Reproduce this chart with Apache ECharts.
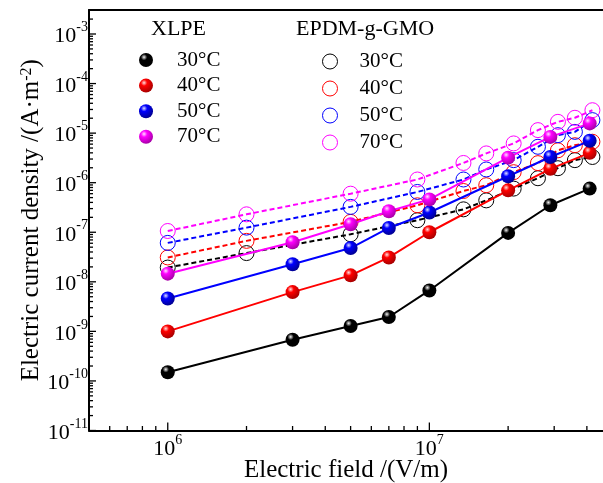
<!DOCTYPE html>
<html>
<head>
<meta charset="utf-8">
<script src="https://cdn.jsdelivr.net/npm/echarts@6/dist/echarts.min.js"></script>
<style>
html,body{margin:0;padding:0;background:#fff;}
#c{width:603px;height:483px;}
</style>
</head>
<body>
<div id="c"></div>
<script>
// ---- data ----
const xlpeField = [1e6, 3e6, 5e6, 7e6, 1e7, 2e7, 2.9e7, 4.1e7];
const xlpe30 = [1.5e-10, 6.8e-10, 1.28e-9, 1.95e-9, 6.7e-9, 9.7e-8, 3.5e-7, 7.6e-7];
const xlpe40 = [1.0e-9, 6.2e-9, 1.35e-8, 3.1e-8, 1.0e-7, 7.0e-7, 1.9e-6, 4.0e-6];
const xlpe50 = [4.6e-9, 2.26e-8, 4.8e-8, 1.22e-7, 2.5e-7, 1.35e-6, 3.3e-6, 7.0e-6];
const xlpe70 = [1.46e-8, 6.3e-8, 1.45e-7, 2.65e-7, 4.6e-7, 3.2e-6, 8.4e-6, 1.57e-5];

const epdmField = [1e6, 2e6, 5e6, 9e6, 1.35e7, 1.65e7, 2.1e7, 2.6e7, 3.1e7, 3.6e7, 4.2e7];
const epdm30 = [1.94e-8, 3.8e-8, 9.1e-8, 1.75e-7, 2.9e-7, 4.4e-7, 7.6e-7, 1.23e-6, 1.96e-6, 2.85e-6, 3.3e-6];
const epdm40 = [3.1e-8, 6.7e-8, 1.62e-7, 3.5e-7, 6.8e-7, 8.9e-7, 1.63e-6, 2.48e-6, 4.5e-6, 5.7e-6, 6.7e-6];
const epdm50 = [6.1e-8, 1.24e-7, 3.25e-7, 6.5e-7, 1.16e-6, 1.85e-6, 2.85e-6, 5.3e-6, 9.1e-6, 1.06e-5, 1.83e-5];
const epdm70 = [1.06e-7, 2.3e-7, 6.0e-7, 1.16e-6, 2.5e-6, 3.9e-6, 6.2e-6, 1.15e-5, 1.69e-5, 2.04e-5, 2.9e-5];

const temps = ['30°C', '40°C', '50°C', '70°C'];
const groupNames = ['XLPE', 'EPDM-g-GMO'];

// axis extents and tick values
const X_MIN = 5e5, X_MAX = 4.61e7;
const Y_MIN = 1e-11, Y_MAX = 3.05e-3;
const xMajorTicks = [1e6, 1e7];
const xMinorTicks = [6e5, 7e5, 8e5, 9e5, 2e6, 3e6, 4e6, 5e6, 6e6, 7e6, 8e6, 9e6, 2e7, 3e7, 4e7];
const yMajorTicks = [1e-11, 1e-10, 1e-9, 1e-8, 1e-7, 1e-6, 1e-5, 1e-4, 1e-3];
const yMinorTicks = [];
for (let e = -11; e <= -3; e++) {
  for (let k = 2; k <= 9; k++) {
    const v = k * Math.pow(10, e);
    if (v <= Y_MAX) yMinorTicks.push(v);
  }
}

// ---- styling ----
const FONT = '"Liberation Serif", "Times New Roman", serif';
const colors = ['#000000', '#ff0000', '#0000ff', '#ff00ff'];
const darkColors = ['#000000', '#a00000', '#00008a', '#a000a0'];
const lightColors = ['#f4f4f4', '#ffe0e0', '#e0e0ff', '#ffe0ff'];

function sphere(i) {
  return {
    type: 'radial', x: 0.36, y: 0.3, r: 0.75,
    colorStops: [
      { offset: 0, color: lightColors[i] },
      { offset: 0.3, color: colors[i] },
      { offset: 1, color: darkColors[i] }
    ]
  };
}

function pair(xs, ys) { return xs.map((x, i) => [x, ys[i]]); }

const xlpeSets = [xlpe30, xlpe40, xlpe50, xlpe70];
const epdmSets = [epdm30, epdm40, epdm50, epdm70];

const series = [];

// EPDM (open circles, dashed)
epdmSets.forEach((ys, i) => {
  series.push({
    name: 'EPDM ' + temps[i],
    type: 'line',
    data: pair(epdmField, ys),
    symbol: 'circle',
    symbolSize: 15,
    showSymbol: true,
    lineStyle: { color: colors[i], width: 2, type: [5, 3] },
    itemStyle: { color: 'rgba(0,0,0,0)', borderColor: colors[i], borderWidth: 1 },
    emphasis: { disabled: true },
    z: 2
  });
});

// XLPE (spheres, solid)
xlpeSets.forEach((ys, i) => {
  series.push({
    name: 'XLPE ' + temps[i],
    type: 'line',
    data: pair(xlpeField, ys),
    symbol: 'circle',
    symbolSize: 14,
    lineStyle: { color: colors[i], width: 2 },
    itemStyle: { color: sphere(i), borderWidth: 0 },
    emphasis: { disabled: true },
    z: 3
  });
});

// tick marks drawn through the axes' scales
function xTickSeries(vals, len) {
  return {
    type: 'custom', silent: true, clip: false, z: 10,
    data: vals.map(v => [v, Y_MIN, len]),
    encode: { x: 0, y: 1 },
    renderItem: (params, api) => {
      const p = api.coord([api.value(0), api.value(1)]);
      return { type: 'line', shape: { x1: p[0], y1: p[1], x2: p[0], y2: p[1] - api.value(2) },
        style: { stroke: '#000', lineWidth: 1.3 } };
    }
  };
}
function yTickSeries(vals, len) {
  return {
    type: 'custom', silent: true, clip: false, z: 10,
    data: vals.map(v => [X_MIN, v, len]),
    encode: { x: 0, y: 1 },
    renderItem: (params, api) => {
      const p = api.coord([api.value(0), api.value(1)]);
      return { type: 'line', shape: { x1: p[0], y1: p[1], x2: p[0] + api.value(2), y2: p[1] },
        style: { stroke: '#000', lineWidth: 1.3 } };
    }
  };
}
series.push(xTickSeries(xMajorTicks, 8), xTickSeries(xMinorTicks, 4.5),
            yTickSeries(yMajorTicks, 7), yTickSeries(yMinorTicks, 4));

function powLabel(v) {
  const e = Math.log10(v);
  const r = Math.round(e);
  if (Math.abs(e - r) > 1e-6) return '';
  return '{b|10}{s|' + r + '}';
}
const richPow = {
  b: { fontFamily: FONT, fontSize: 22, lineHeight: 27, color: '#000', verticalAlign: 'bottom' },
  s: { fontFamily: FONT, fontSize: 14, lineHeight: 14, color: '#000', verticalAlign: 'top' }
};

const legendText = { fontFamily: FONT, fontSize: 21, lineHeight: 21, color: '#000' };

const option = {
  animation: false,
  backgroundColor: '#fff',
  grid: { left: 89, right: 0, top: 10, bottom: 52.5, outerBoundsMode: 'none', containLabel: false },
  title: [
    { text: groupNames[0], left: 151, top: 18, padding: 0,
      textStyle: { fontFamily: FONT, fontSize: 22, fontWeight: 'normal', color: '#000' } },
    { text: groupNames[1], left: 296, top: 18, padding: 0,
      textStyle: { fontFamily: FONT, fontSize: 22, fontWeight: 'normal', color: '#000' } }
  ],
  legend: [
    {
      orient: 'vertical', left: 139, top: 49.5, padding: 0, itemGap: 4.6,
      itemWidth: 14, itemHeight: 14, icon: 'circle', selectedMode: false,
      data: temps.map((t, i) => ({ name: 'XLPE ' + t, itemStyle: { color: sphere(i), borderWidth: 0 } })),
      formatter: n => n.split(' ')[1],
      textStyle: Object.assign({ padding: [0, 0, 0, 19] }, legendText)
    },
    {
      orient: 'vertical', left: 322, top: 51, padding: 0, itemGap: 6,
      itemWidth: 15, itemHeight: 15, icon: 'circle', selectedMode: false,
      data: temps.map((t, i) => ({ name: 'EPDM ' + t,
        itemStyle: { color: 'rgba(0,0,0,0)', borderColor: colors[i], borderWidth: 1 } })),
      formatter: n => n.split(' ')[1],
      textStyle: Object.assign({ padding: [0, 0, 0, 17] }, legendText)
    }
  ],
  xAxis: [
    {
      type: 'log', logBase: 10, min: X_MIN, max: X_MAX,
      name: 'Electric field /(V/m)', nameLocation: 'middle', nameGap: 27, nameMoveOverlap: false,
      nameTextStyle: { fontFamily: FONT, fontSize: 25, color: '#000' },
      axisLine: { show: true, lineStyle: { color: '#000', width: 2 } },
      axisTick: { show: false },
      splitLine: { show: false },
      minorTick: { show: false },
      axisLabel: { margin: 3, formatter: powLabel, rich: richPow, showMinLabel: false, showMaxLabel: false }
    },
    {
      type: 'log', logBase: 10, min: X_MIN, max: X_MAX, position: 'top',
      axisLine: { show: true, lineStyle: { color: '#000', width: 2 } },
      axisTick: { show: false }, axisLabel: { show: false }, splitLine: { show: false }
    }
  ],
  yAxis: {
    type: 'log', logBase: 10, min: Y_MIN, max: Y_MAX,
    name: 'Electric current density /(A·m{s|-2})', nameLocation: 'middle', nameGap: 45, nameMoveOverlap: false,
    nameTextStyle: {
      fontFamily: FONT, fontSize: 25, color: '#000',
      rich: { s: { fontFamily: FONT, fontSize: 16, color: '#000', verticalAlign: 'top', lineHeight: 16 } }
    },
    axisLine: { show: true, lineStyle: { color: '#000', width: 2 } },
    axisTick: { show: false },
    splitLine: { show: false },
    minorTick: { show: false },
    axisLabel: { margin: 1, formatter: powLabel, rich: richPow, showMinLabel: true, showMaxLabel: false }
  },
  series: series
};

const chart = echarts.init(document.getElementById('c'), null, { renderer: 'canvas' });
chart.setOption(option);
</script>
</body>
</html>
